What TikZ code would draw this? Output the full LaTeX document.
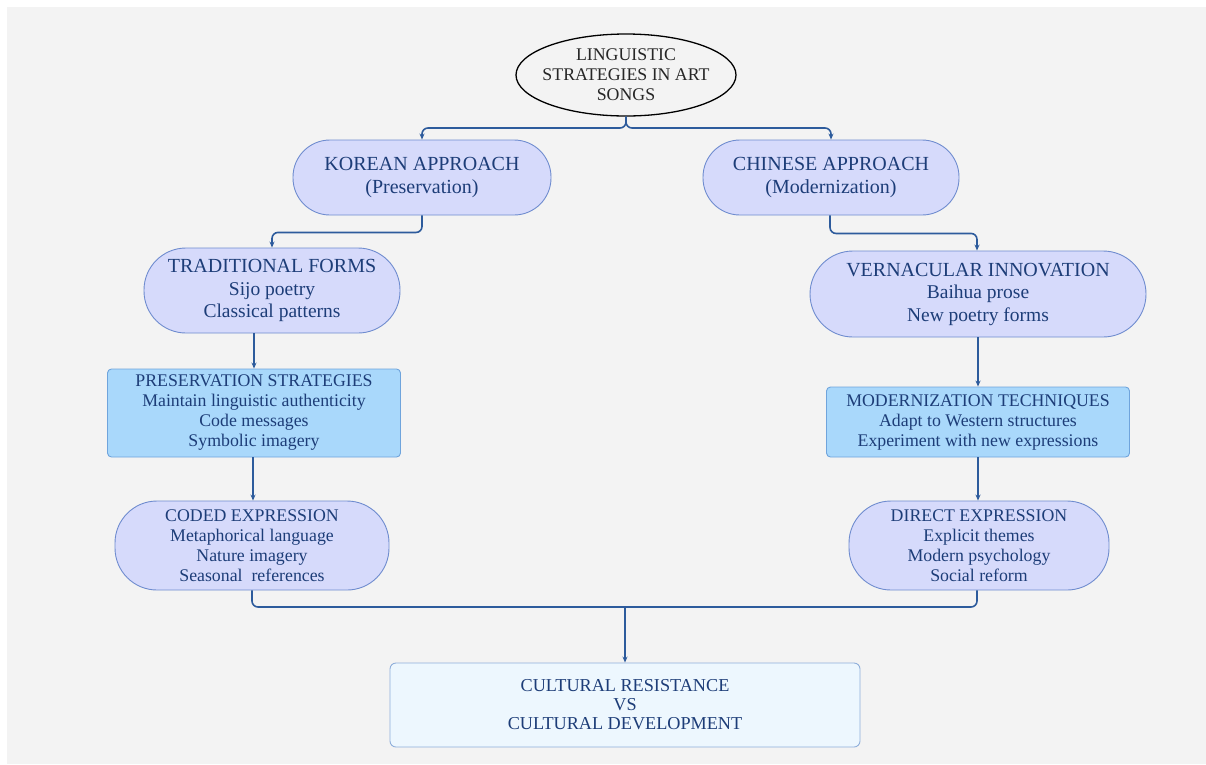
\documentclass[tikz,border=0pt]{standalone}
\usepackage{fontspec}
\setmainfont{Liberation Serif}
\usetikzlibrary{arrows.meta,shapes.geometric}
\definecolor{txt}{HTML}{1D3D78}
\definecolor{lav}{HTML}{D6DAFB}
\definecolor{lavb}{HTML}{6F8CCF}
\definecolor{skyf}{HTML}{A9D8FB}
\definecolor{skyb}{HTML}{6FA4DC}
\definecolor{palef}{HTML}{EDF7FE}
\definecolor{paleb}{HTML}{8EAEDA}
\definecolor{conn}{HTML}{2D5B9C}
\definecolor{bg}{HTML}{F3F3F3}
\tikzset{
  base/.style={text=txt, align=center, inner sep=0pt},
  pill/.style={base, draw=lavb, fill=lav, line width=0.9pt},
  big/.style={font=\fontsize{20}{22.5}\selectfont},
  small/.style={font=\fontsize{17.8}{20}\selectfont},
  sqbox/.style={base, draw=skyb, fill=skyf, line width=0.9pt, rounded corners=4pt, font=\fontsize{17.8}{20}\selectfont},
  endbox/.style={base, draw=paleb, fill=palef, line width=0.9pt, rounded corners=6pt, font=\fontsize{18.2}{19}\selectfont},
  link/.style={draw=conn, line width=1.6pt, rounded corners=6pt, -{Stealth[length=6pt,width=5pt]}},
  plainlink/.style={draw=conn, line width=1.6pt, rounded corners=6pt}
}
\begin{document}
\begin{tikzpicture}[x=1pt,y=-1pt]
\useasboundingbox (0,0) rectangle (1206,764);
\fill[white] (0,0) rectangle (1206,764);
\fill[bg] (7,7) rectangle (1206,764);

\node[ellipse, draw=black, line width=1.3pt, minimum width=220pt, minimum height=82pt, base, inner xsep=-10pt, inner ysep=-4pt, text=black!85, font=\fontsize{17.8}{20}\selectfont] (ell) at (626,75) {LINGUISTIC\\STRATEGIES IN ART\\SONGS};

\node[pill, big, minimum width=258pt, minimum height=75pt, rounded corners=37pt] (kor) at (422,177.5) {KOREAN APPROACH\\(Preservation)};
\node[pill, big, minimum width=256pt, minimum height=75pt, rounded corners=37pt] (chi) at (831,177.5) {CHINESE APPROACH\\(Modernization)};

\node[pill, big, minimum width=256pt, minimum height=85pt, rounded corners=42pt] (trad) at (272,290.5) {TRADITIONAL FORMS\\{\fontsize{19.5}{23}\selectfont Sijo poetry}\\{\fontsize{19.5}{23}\selectfont Classical patterns}};
\node[pill, big, minimum width=336pt, minimum height=86pt, rounded corners=43pt] (vern) at (978,294) {VERNACULAR INNOVATION\\{\fontsize{19.5}{23}\selectfont Baihua prose}\\{\fontsize{19.5}{23}\selectfont New poetry forms}};

\node[sqbox, minimum width=293pt, minimum height=88pt] (pres) at (254,413) {PRESERVATION STRATEGIES\\Maintain linguistic authenticity\\Code messages\\Symbolic imagery};
\node[sqbox, minimum width=303pt, minimum height=70pt] (mod) at (978,422) {MODERNIZATION TECHNIQUES\\Adapt to Western structures\\Experiment with new expressions};

\node[pill, small, minimum width=274pt, minimum height=89pt, rounded corners=42pt] (cod) at (252,545.5) {CODED EXPRESSION\\Metaphorical language\\Nature imagery\\Seasonal\ \ references};
\node[pill, small, minimum width=260pt, minimum height=89pt, rounded corners=42pt] (dir) at (979,545.5) {DIRECT EXPRESSION\\Explicit themes\\Modern psychology\\Social reform};

\node[endbox, minimum width=470pt, minimum height=84pt] (cult) at (625,705) {CULTURAL RESISTANCE\\VS\\CULTURAL DEVELOPMENT};

\coordinate (split) at (626,128);
\draw[link] (ell.south) -- (split) -| (kor.north);
\draw[link] (ell.south) -- (split) -| (chi.north);
\draw[link] (kor.south) -- ++(0,17) -| (trad.north);
\draw[link] ([xshift=-1pt]chi.south) -- ++(0,18) -| ([xshift=-1pt]vern.north);
\draw[link] (pres.north |- trad.south) -- (pres.north);
\draw[link] ([xshift=-1pt]pres.south) -- ([xshift=-1pt]pres.south |- cod.north);
\draw[link] (vern.south) -- (vern.south |- mod.north);
\draw[link] (mod.south) -- (mod.south |- dir.north);
\coordinate (join) at (626,607);
\draw[plainlink] (cod.south) |- (join) -| ([xshift=-2pt]dir.south);
\draw[link, rounded corners=0pt] (cult.north |- join) -- (cult.north);
\end{tikzpicture}
\end{document}
